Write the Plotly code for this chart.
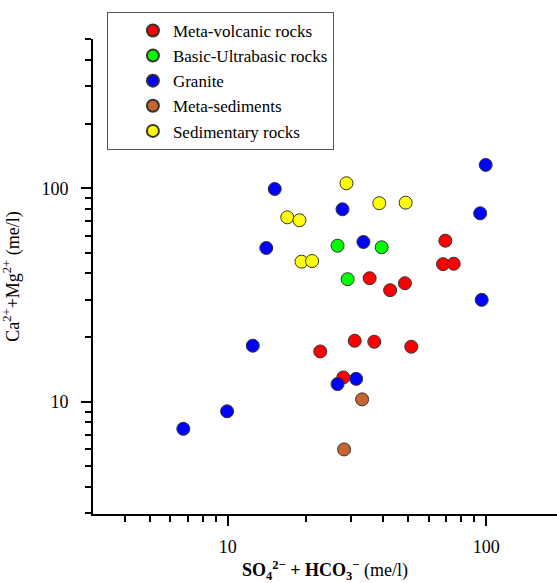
import math
import plotly.graph_objects as go

# ---- data ----
meta_volcanic_x = [22.8, 28.0, 31.0, 36.9, 35.4, 42.5, 48.5, 51.3, 68.1, 74.9, 69.5]
meta_volcanic_y = [17.2, 13.0, 19.3, 19.1, 37.9, 33.3, 35.9, 18.1, 44.1, 44.3, 56.8]

basic_ultra_x = [26.6, 29.1, 39.4]
basic_ultra_y = [53.8, 37.5, 52.9]

granite_x = [15.2, 27.8, 14.1, 33.5, 99.6, 94.8, 96.1, 12.5, 26.6, 31.4, 9.94, 6.73]
granite_y = [99.2, 79.7, 52.5, 56.0, 128.6, 76.3, 30.0, 18.3, 12.1, 12.8, 9.02, 7.47]

meta_sed_x = [33.1, 28.2]
meta_sed_y = [10.26, 5.98]

sedimentary_x = [28.8, 17.0, 18.95, 19.3, 21.2, 38.6, 48.8]
sedimentary_y = [105.5, 73.1, 70.8, 45.3, 45.6, 85.1, 85.6]

series_names = ["Meta-volcanic rocks", "Basic-Ultrabasic rocks", "Granite",
                "Meta-sediments", "Sedimentary rocks"]
series_colors = ["#FF0000", "#00FF00", "#0000FF", "#C8642E", "#FFFF00"]

x_major_ticks = [10, 100]
x_major_labels = ["10", "100"]
x_minor_ticks = [4, 5, 6, 7, 8, 9, 20, 30, 40, 50, 60, 70, 80, 90]
y_major_ticks = [10, 100]
y_major_labels = ["10", "100"]
y_minor_ticks = [3, 4, 5, 6, 7, 8, 9, 20, 30, 40, 50, 60, 70, 80, 90, 200, 300, 400, 500]

x_range = [3.01, 188]
y_range = [2.98, 500]

FONT = "Liberation Serif, Times New Roman, serif"

series = [
    (meta_volcanic_x, meta_volcanic_y),
    (basic_ultra_x, basic_ultra_y),
    (granite_x, granite_y),
    (meta_sed_x, meta_sed_y),
    (sedimentary_x, sedimentary_y),
]

fig = go.Figure()
for (xs, ys), name, col in zip(series, series_names, series_colors):
    fig.add_trace(go.Scatter(
        x=xs, y=ys, mode="markers", name=name,
        marker=dict(size=13, color=col, line=dict(color="#333333", width=1)),
    ))

axis_common = dict(
    type="log", showgrid=False, zeroline=False,
    showline=True, linecolor="black", linewidth=2,
    ticks="outside", ticklen=10, tickwidth=2, tickcolor="black",
    tickfont=dict(family=FONT, size=18, color="black"),
    tickmode="array",
)

fig.update_xaxes(
    **axis_common,
    range=[math.log10(x_range[0]), math.log10(x_range[1])],
    tickvals=x_major_ticks, ticktext=x_major_labels,
    ticklabelstandoff=5,
    minor=dict(tickmode="array", tickvals=x_minor_ticks, ticks="outside",
               ticklen=6, tickwidth=2, tickcolor="black", showgrid=False),
    title=dict(text="<b>SO<sub>4</sub><sup>2−</sup> + HCO<sub>3</sub><sup>−</sup></b> (me/l)",
               font=dict(family=FONT, size=18, color="black"), standoff=8),
)
fig.update_yaxes(
    **axis_common,
    range=[math.log10(y_range[0]), math.log10(y_range[1])],
    tickvals=y_major_ticks, ticktext=y_major_labels,
    ticklabelstandoff=9,
    minor=dict(tickmode="array", tickvals=y_minor_ticks, ticks="outside",
               ticklen=6, tickwidth=2, tickcolor="black", showgrid=False),
    title=dict(text="Ca<sup>2+</sup>+Mg<sup>2+</sup> (me/l)",
               font=dict(family=FONT, size=18, color="black"), standoff=20),
)

fig.update_layout(
    width=557, height=583,
    margin=dict(l=93, r=0, t=39, b=69),
    paper_bgcolor="white", plot_bgcolor="white",
    font=dict(family=FONT, size=18, color="black"),
    legend=dict(
        x=0.030, y=1.057, xanchor="left", yanchor="top",
        bordercolor="#555555", borderwidth=1, bgcolor="white",
        font=dict(family=FONT, size=17, color="black"),
        indentation=25, itemsizing="constant",
    ),
)

fig.write_html("out.html")
